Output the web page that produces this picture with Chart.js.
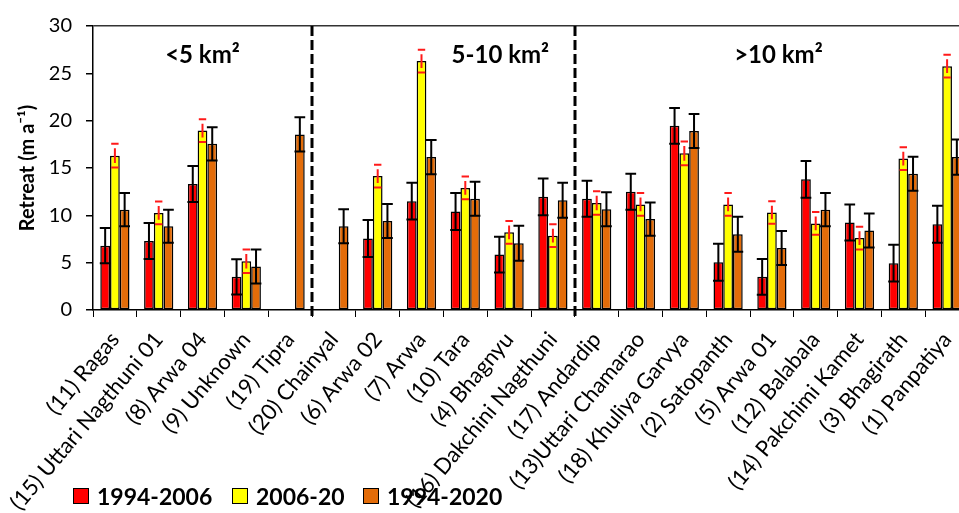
<!DOCTYPE html>
<html>
<head>
<meta charset="utf-8">
<script src="https://cdn.jsdelivr.net/npm/chart.js@4.4.0/dist/chart.umd.min.js"></script>
<style>
  html, body { margin: 0; padding: 0; overflow: hidden; background: #fff; }
  #wrap { position: relative; width: 969px; height: 513px; }
  #legend { position: absolute; left: 0; top: 0; font: bold 23px Lato, "Open Sans", sans-serif; color: #000; }
  #legend .item { position: absolute; top: 484.6px; display: flex; align-items: center; line-height: 23px; white-space: nowrap; }
  #legend .sw { width: 16px; height: 16px; box-sizing: border-box; border: 1.5px solid #000; margin-right: 8px; }
</style>
</head>
<body>
<div id="wrap">
  <canvas id="chart" width="969" height="513"></canvas>
  <div id="legend"></div>
</div>
<script>
const glaciers = [
  '(11) Ragas', '(15) Uttari Nagthuni 01', '(8) Arwa 04', '(9) Unknown', '(19) Tipra',
  '(20) Chainyal', '(6) Arwa 02', '(7) Arwa', '(10) Tara', '(4) Bhagnyu',
  '(16) Dakchini Nagthuni', '(17) Andardip', '(13)Uttari Chamarao', '(18) Khuliya Garvya',
  '(2) Satopanth', '(5) Arwa 01', '(12) Balabala', '(14) Pakchimi Kamet', '(3) Bhagirath',
  '(1) Panpatiya'
];

// retreat rates (m a-1) and their uncertainties
const retreat9406 = [6.8, 7.3, 13.3, 3.5, null, null, 7.55, 11.5, 10.4, 5.85, 11.95, 11.75, 12.5, 19.45, 5.05, 3.5, 13.8, 9.25, 4.95, 9.05];
const err9406 = [1.85, 1.9, 1.9, 1.85, null, null, 1.95, 1.95, 1.95, 1.9, 1.95, 1.9, 1.9, 1.9, 1.95, 1.9, 1.95, 1.9, 1.95, 1.95];
const retreat0620 = [16.3, 10.25, 18.95, 5.15, null, null, 14.15, 26.3, 12.9, 8.2, 7.85, 11.3, 11.15, 16.55, 11.15, 10.3, 9.15, 7.6, 16.0, 25.75];
const err0620 = [1.25, 1.2, 1.2, 1.25, null, null, 1.2, 1.2, 1.2, 1.2, 1.2, 1.25, 1.2, 1.25, 1.2, 1.2, 1.2, 1.2, 1.2, 1.2];
const retreat9420 = [10.6, 8.85, 17.55, 4.6, 18.55, 8.85, 9.4, 16.15, 11.75, 7.05, 11.6, 10.65, 9.6, 18.9, 8.0, 6.55, 10.6, 8.4, 14.4, 16.15];
const err9420 = [1.75, 1.75, 1.75, 1.8, 1.8, 1.8, 1.8, 1.8, 1.8, 1.85, 1.85, 1.8, 1.75, 1.8, 1.85, 1.8, 1.75, 1.8, 1.8, 1.85];

// size classes: name and index of first glacier in the class
const groupNames = ['<5 km²', '5-10 km²', '>10 km²'];
const groupStarts = [0, 5, 11];

const FONT = 'Lato, "Open Sans", sans-serif';
const groupLabelAt = [2.0, 8.8, 15.15]; // category index where each class label is centred

// whiskers on each bar, drawn through the y scale
const errorBars = {
  id: 'errorBars',
  afterDatasetsDraw(chart) {
    const ctx = chart.ctx;
    const yScale = chart.scales.y;
    chart.data.datasets.forEach((ds, di) => {
      const meta = chart.getDatasetMeta(di);
      meta.data.forEach((bar, i) => {
        const v = ds.data[i];
        const e = ds.errors[i];
        if (v == null || e == null) return;
        const yTop = yScale.getPixelForValue(v + e);
        const yBot = yScale.getPixelForValue(v - e);
        const x = bar.x;
        ctx.save();
        ctx.strokeStyle = ds.errorColor;
        ctx.lineWidth = 2;
        if (ds.errorGap) {
          const half = 3.7;
          ctx.beginPath();
          ctx.moveTo(x - half, yTop); ctx.lineTo(x + half, yTop);
          ctx.moveTo(x - half, yBot); ctx.lineTo(x + half, yBot);
          ctx.moveTo(x, yTop + 4.5); ctx.lineTo(x, yBot - 4.5);
          ctx.stroke();
        } else {
          const half = bar.width / 2 + 0.5;
          ctx.beginPath();
          ctx.moveTo(x - half, yTop); ctx.lineTo(x + half, yTop);
          ctx.moveTo(x - half, yBot); ctx.lineTo(x + half, yBot);
          ctx.moveTo(x, yTop); ctx.lineTo(x, yBot);
          ctx.stroke();
        }
        ctx.restore();
      });
    });
  }
};

// dashed class separators and class names
const classes = {
  id: 'classes',
  afterDatasetsDraw(chart) {
    const ctx = chart.ctx;
    const xs = chart.scales.x;
    const area = chart.chartArea;
    ctx.save();
    ctx.strokeStyle = '#000';
    ctx.lineWidth = 3;
    ctx.setLineDash([10, 4]);
    groupStarts.slice(1).forEach(s => {
      const x = Math.round(xs.getPixelForValue(s - 0.5));
      ctx.beginPath();
      ctx.moveTo(x, area.top);
      ctx.lineTo(x, area.bottom + 6);
      ctx.stroke();
    });
    ctx.setLineDash([]);
    ctx.fillStyle = '#000';
    ctx.font = 'bold 24px ' + FONT;
    ctx.textAlign = 'center';
    ctx.textBaseline = 'alphabetic';
    groupNames.forEach((name, k) => {
      ctx.fillText(name, xs.getPixelForValue(groupLabelAt[k]), area.top + 37);
    });
    ctx.restore();
  }
};

const chart = new Chart(document.getElementById('chart'), {
  type: 'bar',
  data: {
    labels: glaciers,
    datasets: [
      { label: '1994-2006', data: retreat9406, errors: err9406, backgroundColor: '#ff0000', errorColor: '#000', errorGap: false },
      { label: '2006-20', data: retreat0620, errors: err0620, backgroundColor: '#ffff00', errorColor: '#ff1a1a', errorGap: true },
      { label: '1994-2020', data: retreat9420, errors: err9420, backgroundColor: '#e36c09', errorColor: '#000', errorGap: false }
    ]
  },
  options: {
    responsive: false,
    animation: false,
    devicePixelRatio: 1,
    layout: { padding: { top: 20, right: 0, bottom: 0, left: 0 } },
    datasets: {
      bar: {
        borderColor: '#000',
        borderWidth: 1.5,
        borderSkipped: false,
        barPercentage: 1,
        categoryPercentage: 0.667
      }
    },
    plugins: {
      legend: { display: false },
      tooltip: { enabled: false }
    },
    scales: {
      x: {
        ticks: {
          color: '#000',
          font: { family: FONT, size: 22 },
          minRotation: 50,
          maxRotation: 50,
          autoSkip: false,
          padding: 10
        },
        grid: { color: 'rgba(0,0,0,0)', tickColor: '#000', tickLength: 7, offset: true },
        border: { color: '#000', width: 1.5 },
        afterFit(s) { s.height = 203; s.paddingLeft = 0; s.paddingRight = 0; }
      },
      y: {
        min: 0,
        max: 30,
        ticks: { stepSize: 5, color: '#000', font: { family: FONT, size: 20 }, padding: 14 },
        grid: {
          color: c => (c.tick && c.tick.value === 30 ? '#333' : 'rgba(0,0,0,0)'),
          lineWidth: 1.5,
          tickColor: '#000',
          tickLength: 7
        },
        border: { color: '#000', width: 1.5 },
        title: {
          display: true,
          text: 'Retreat (m a⁻¹)',
          color: '#000',
          font: { family: FONT, size: 20, weight: 'bold' },
          padding: { top: 16, bottom: 0 }
        },
        afterFit(s) { s.width = 93; }
      }
    }
  },
  plugins: [errorBars, classes]
});

// legend from the datasets
const legendEl = document.getElementById('legend');
const legendLeft = [73, 232, 363];
chart.data.datasets.forEach((ds, i) => {
  const item = document.createElement('div');
  item.className = 'item';
  item.style.left = legendLeft[i] + 'px';
  const sw = document.createElement('span');
  sw.className = 'sw';
  sw.style.background = ds.backgroundColor;
  item.appendChild(sw);
  item.appendChild(document.createTextNode(ds.label));
  legendEl.appendChild(item);
});
</script>
</body>
</html>
